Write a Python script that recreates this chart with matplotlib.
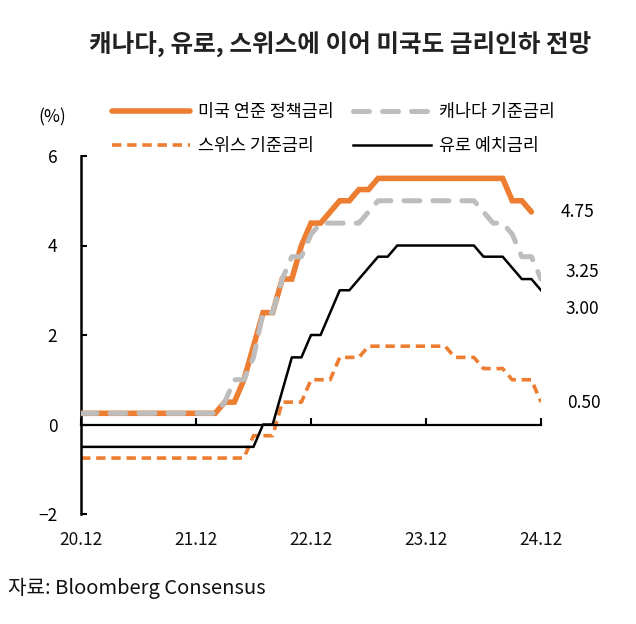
import numpy as np
import matplotlib
matplotlib.use("Agg")
import matplotlib.pyplot as plt

plt.rcParams['font.family'] = ['Noto Sans CJK KR', 'DejaVu Sans']

# ---------------- data (monthly, 2020.12 -> 2024.12) ----------------
x_tick_labels = ['20.12', '21.12', '22.12', '23.12', '24.12']

fed = ([0.25] * 15 + [0.5, 0.5, 1.0, 1.75, 2.5, 2.5, 3.25, 3.25, 4.0, 4.5, 4.5,
       4.75, 5.0, 5.0, 5.25, 5.25] + [5.5] * 14 + [5.0, 5.0, 4.75])
canada = ([0.25] * 15 + [0.5, 1.0, 1.0, 1.5, 2.5, 2.5, 3.25, 3.75, 3.75, 4.25]
          + [4.5] * 5 + [4.75] + [5.0] * 11 + [4.75, 4.5, 4.5, 4.25, 3.75, 3.75, 3.25])
swiss = ([-0.75] * 18 + [-0.25, -0.25, -0.25, 0.5, 0.5, 0.5, 1.0, 1.0, 1.0, 1.5, 1.5, 1.5]
         + [1.75] * 9 + [1.5, 1.5, 1.5, 1.25, 1.25, 1.25, 1.0, 1.0, 1.0, 0.5])
ecb = ([-0.5] * 19 + [0.0, 0.0, 0.75, 1.5, 1.5, 2.0, 2.0, 2.5, 3.0, 3.0, 3.25, 3.5, 3.75, 3.75]
       + [4.0] * 9 + [3.75, 3.75, 3.75, 3.5, 3.25, 3.25, 3.0])

labels = ['미국 연준 정책금리', '스위스 기준금리', '캐나다 기준금리', '유로 예치금리']

ORANGE = '#ED7D31'
GRAY = '#BDBDBD'

fig = plt.figure(figsize=(6.36, 6.24), dpi=100)
ax = fig.add_axes([81 / 636, 1 - 514 / 624, 460 / 636, 358 / 624])

m_fed = np.arange(len(fed))
m_can = np.arange(len(canada))
m_sw = np.arange(len(swiss))
m_ecb = np.arange(len(ecb))

l_sw, = ax.plot(m_sw, swiss, color=ORANGE, lw=2.6, dashes=(2.6, 1.6),
                dash_capstyle='butt', label=labels[1], zorder=2)
l_ecb, = ax.plot(m_ecb, ecb, color='black', lw=1.8, label=labels[3], zorder=3)
l_fed, = ax.plot(m_fed, fed, color=ORANGE, lw=4.0, solid_capstyle='round',
                 solid_joinstyle='miter', label=labels[0], zorder=4)
l_can, = ax.plot(m_can, canada, color=GRAY, lw=3.6, dashes=(3.2, 2.6),
                 dash_capstyle='round', label=labels[2], zorder=5)

ax.set_xlim(0, 48)
ax.set_ylim(-2, 6)
ax.set_yticks([-2, 0, 2, 4, 6])
ax.set_xticks(np.arange(0, 49, 12))

for s in ['top', 'right']:
    ax.spines[s].set_visible(False)
ax.spines['bottom'].set_position(('data', 0))
ax.spines['bottom'].set_linewidth(1.6)
ax.spines['left'].set_linewidth(1.8)
ax.tick_params(axis='x', direction='in', length=5, width=1.5, labelbottom=False)
ax.tick_params(axis='y', direction='in', length=4, width=1.5, labelsize=12.5,
               pad=17, colors='black')

for xi, lab in zip(np.arange(0, 49, 12), x_tick_labels):
    ax.text(xi, -0.073, lab, transform=ax.get_xaxis_transform(), ha='center',
            va='center', fontsize=12.5, color='#111111')

fig.text(52 / 636, 1 - 117 / 624, '(%)', ha='center', va='center', fontsize=12.5)

# end value labels
end_specs = [(fed, 0.0), (canada, 0.16), (ecb, -0.41), (swiss, -0.03)]
end_x = [51.8, 52.3, 52.3, 52.5]
for (ser, dy), ex in zip(end_specs, end_x):
    ax.text(ex, ser[-1] + dy, f'{ser[-1]:.2f}', ha='center', va='center',
            fontsize=12.5, clip_on=False)

leg = ax.legend(handles=[l_fed, l_sw, l_can, l_ecb], ncol=2, frameon=False,
                loc='upper left', bbox_to_anchor=(112 / 636, 1 - 103 / 624),
                bbox_transform=fig.transFigure, borderaxespad=0, borderpad=0,
                fontsize=12.5, handlelength=4.5, handletextpad=0.45,
                columnspacing=1.1, labelspacing=0.92)

fig.text(340 / 636, 1 - 45 / 624, '캐나다, 유로, 스위스에 이어 미국도 금리인하 전망',
         ha='center', va='center', fontsize=17.7, fontweight='bold', color='#222222')
fig.text(8 / 636, 1 - 588 / 624, '자료: Bloomberg Consensus', ha='left', va='center',
         fontsize=14.5, color='#111111')

fig.savefig('out.png', dpi=100)
